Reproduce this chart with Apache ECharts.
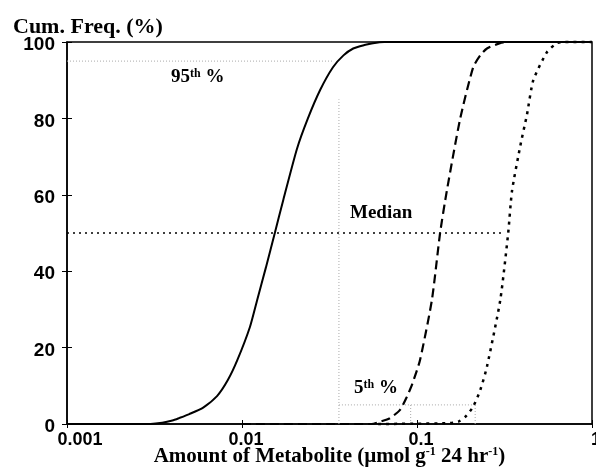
<!DOCTYPE html>
<html>
<head>
<meta charset="utf-8">
<script src="https://cdn.jsdelivr.net/npm/echarts@6/dist/echarts.min.js"></script>
<style>
  html, body { margin: 0; padding: 0; background: #fff; }
  #chart { width: 596px; height: 467px; }
</style>
</head>
<body>
<div id="chart"></div>
<script>
  // x tick labels (log axis)
  const xTickLabels = ['0.001', '0.01', '0.1', '1']
  const yTicks = [0, 20, 40, 60, 80, 100]

  // cumulative frequency curves [amount, cum %]
  const solidCurve = [
    [0.001, 0], [0.003, 0], [0.0035, 0.3], [0.004, 0.9], [0.0044, 1.6], [0.005, 2.6],
    [0.006, 4.3], [0.0072, 7.3], [0.0083, 11.5], [0.0094, 16.7], [0.0111, 25.4],
    [0.0122, 32.4], [0.0137, 41], [0.0154, 50], [0.0172, 58.6], [0.0206, 72],
    [0.0238, 80], [0.028, 87.5], [0.0331, 93.4], [0.038, 96.5], [0.0432, 98.3],
    [0.05, 99.2], [0.056, 99.7], [0.065, 100], [1, 100]
  ]
  const dashedCurve = [
    [0.01, 0], [0.055, 0], [0.0615, 0.6], [0.07, 1.5], [0.08, 3.7], [0.0875, 7.1],
    [0.094, 10.5], [0.104, 16.7], [0.1216, 32.4], [0.1355, 50], [0.148, 61],
    [0.1766, 80], [0.2094, 93.4], [0.23, 96.5], [0.251, 98.3], [0.298, 99.7],
    [0.33, 100], [1, 100]
  ]
  const dottedCurve = [
    [0.06, 0], [0.15, 0.2], [0.172, 0.6], [0.19, 2], [0.209, 4.5], [0.23, 8.9],
    [0.251, 15], [0.299, 32.4], [0.332, 50], [0.349, 61], [0.39, 73], [0.425, 81],
    [0.462, 90], [0.552, 97.3], [0.63, 99.7], [0.7, 100], [1, 100]
  ]

  // percentile guide lines
  const p95Line = [[0.001, 95], [0.033, 95]]
  const medianLine = [[0.001, 50], [0.311, 50]]
  const p5Line = [[0.0358, 5], [0.215, 5]]
  const vLine = [[0.0358, 0], [0.0358, 85]]
  const p5DropA = [[0.092, 0], [0.092, 5]]
  const p5DropB = [[0.215, 0], [0.215, 5]]

  const serif = '"Liberation Serif", "Times New Roman", serif'
  const sans = '"Liberation Sans", Arial, sans-serif'

  let chart = echarts.init(document.getElementById('chart'))

  function curve(data, type, width) {
    return {
      type: 'line',
      data: data,
      symbol: 'none',
      smooth: 0.2,
      clip: false,
      lineStyle: { color: '#000', width: width, type: type }
    }
  }
  function guide(data, color, width, dash) {
    return {
      type: 'line',
      data: data,
      symbol: 'none',
      lineStyle: { color: color, width: width, type: dash }
    }
  }

  const supStyle = { fontSize: 12, fontWeight: 'bold', fontFamily: serif, verticalAlign: 'top', lineHeight: 12 }

  chart.setOption({
    animation: false,
    title: {
      text: 'Cum. Freq. (%)',
      left: 8,
      top: 11,
      textStyle: { fontFamily: serif, fontWeight: 'bold', fontSize: 22, color: '#000' }
    },
    grid: {
      left: 67, right: 4, top: 42, bottom: 43,
      show: true, borderColor: '#000', borderWidth: 1.5,
      outerBoundsMode: 'none'
    },
    xAxis: [{
      type: 'log',
      logBase: 10,
      min: 0.001,
      max: 1,
      axisLine: { lineStyle: { color: '#000', width: 1.5 } },
      axisTick: { length: 4, lineStyle: { color: '#000' } },
      minorTick: { show: false },
      splitLine: { show: false },
      axisLabel: {
        margin: 7,
        formatter: function (v) {
          let i = Math.round(Math.log10(v)) + 3
          return i === 0 ? '{first|' + xTickLabels[i] + '}' : '{rest|' + xTickLabels[i] + '}'
        },
        rich: {
          first: { fontFamily: sans, fontWeight: 'bold', fontSize: 18, color: '#000', padding: [0, 0, 0, 26] },
          rest: { fontFamily: sans, fontWeight: 'bold', fontSize: 18, color: '#000', padding: [0, 0, 0, 8] }
        }
      },
      name: 'Amount of Metabolite (\u00b5mol g{sup|-1} 24 hr{sup|-1})',
      nameLocation: 'middle',
      nameGap: 22,
      nameMoveOverlap: false,
      nameTextStyle: {
        fontFamily: serif, fontWeight: 'bold', fontSize: 21, color: '#000',
        lineHeight: 22,
        rich: {
          sup: { fontFamily: serif, fontWeight: 'bold', fontSize: 12, color: '#000', verticalAlign: 'top', lineHeight: 12 }
        }
      }
    }, {
      type: 'log',
      logBase: 10,
      min: 0.001,
      max: 1,
      position: 'bottom',
      axisLine: { show: false },
      axisTick: { inside: true, length: 4, lineStyle: { color: '#000' } },
      axisLabel: { show: false },
      splitLine: { show: false }
    }],
    yAxis: [{
      type: 'value',
      min: 0,
      max: 100,
      interval: 20,
      axisLine: { show: true, lineStyle: { color: '#000', width: 1.5 } },
      axisTick: { show: true, length: 5, lineStyle: { color: '#000' } },
      splitLine: { show: false },
      axisLabel: {
        margin: 12,
        formatter: function (v) { return yTicks.indexOf(v) >= 0 ? '{a|' + v + '}' : '' },
        rich: {
          a: { fontFamily: sans, fontWeight: 'bold', fontSize: 19, color: '#000', padding: [6, 0, 0, 0] }
        }
      }
    }, {
      type: 'value',
      min: 0,
      max: 100,
      interval: 20,
      position: 'left',
      axisLine: { show: false },
      axisTick: { show: true, inside: true, length: 5, lineStyle: { color: '#000' } },
      axisLabel: { show: false },
      splitLine: { show: false }
    }],
    graphic: [
      {
        type: 'text', left: 171, top: 68,
        style: {
          text: '95{sup|th} %',
          font: 'bold 19px ' + serif, fill: '#000',
          rich: { sup: supStyle }
        }
      },
      {
        type: 'text', left: 350, top: 204,
        style: { text: 'Median', font: 'bold 19px ' + serif, fill: '#000' }
      },
      {
        type: 'text', left: 354, top: 379,
        style: {
          text: '5{sup|th} %',
          font: 'bold 19px ' + serif, fill: '#000',
          rich: { sup: supStyle }
        }
      }
    ],
    series: [
      guide(p95Line, '#aaa', 1, [1, 2]),
      guide(vLine, '#aaa', 1, [1, 2]),
      guide(p5Line, '#aaa', 1, [1, 2]),
      guide(p5DropA, '#aaa', 1, [1, 2]),
      guide(p5DropB, '#aaa', 1, [1, 2]),
      guide(medianLine, '#000', 1.3, [2, 4]),
      curve(solidCurve, 'solid', 2),
      curve(dashedCurve, [9, 5], 2.2),
      curve(dottedCurve, [3, 5], 2.5)
    ]
  })

  window.addEventListener('resize', () => {
    chart.resize()
  })
</script>
</body>
</html>
